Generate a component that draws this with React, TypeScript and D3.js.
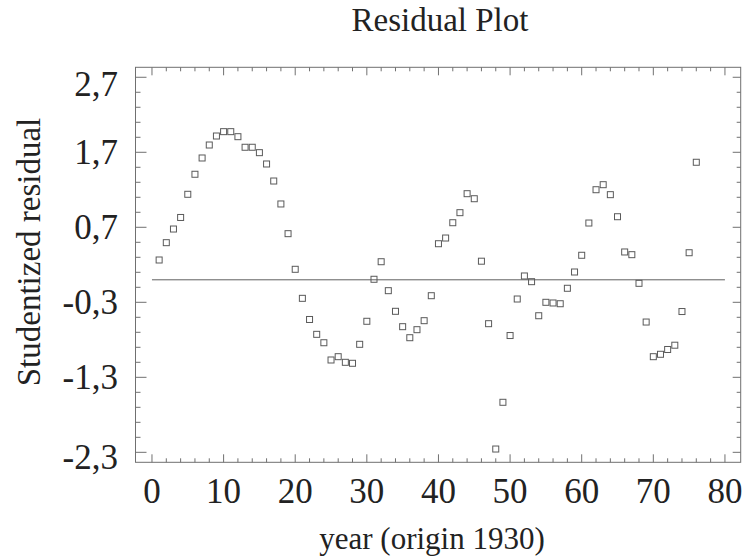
import React from "react";
import * as d3 from "d3";

const years: number[] = Array.from({ length: 76 }, (_, i) => i + 1);
const residuals: number[] = [
  0.264, 0.495, 0.677, 0.831, 1.14, 1.407, 1.624, 1.797, 1.917, 1.975,
  1.975, 1.908, 1.767, 1.767, 1.695, 1.544, 1.317, 1.011, 0.615, 0.14,
  -0.247, -0.529, -0.727, -0.839, -1.069, -1.025, -1.1, -1.113, -0.86, -0.553,
  0.007, 0.241, -0.145, -0.42, -0.625, -0.772, -0.665, -0.545, -0.212, 0.481,
  0.557, 0.761, 0.895, 1.148, 1.081, 0.248, -0.585, -2.256, -1.633, -0.743,
  -0.256, 0.051, -0.025, -0.479, -0.3, -0.309, -0.319, -0.113, 0.104, 0.327,
  0.757, 1.201, 1.268, 1.135, 0.841, 0.371, 0.335, -0.047, -0.563, -1.025,
  -0.993, -0.929, -0.872, -0.423, 0.361, 1.567,
];
const xTicks: number[] = [0, 10, 20, 30, 40, 50, 60, 70, 80];
const yTicks: number[] = [-2.3, -1.3, -0.3, 0.7, 1.7, 2.7];
const yTickLabels: string[] = ["-2,3", "-1,3", "-0,3", "0,7", "1,7", "2,7"];

const W = 746;
const H = 559;
const FONT = "'Liberation Serif', 'Times New Roman', serif";

export default function App() {
  const x = d3.scaleLinear().domain([-2.3, 82.2]).range([135.5, 740.7]);
  const y = d3.scaleLinear().domain([-2.433, 2.833]).range([462.3, 67.3]);
  const [x0, x1] = x.range();
  const [yb, yt] = y.range();

  const xMinor = d3.range(0, 81, 2).filter((v) => v % 10 !== 0);
  const yMinor = d3
    .range(-2.3, 2.75, 0.2)
    .map((v) => Math.round(v * 10) / 10)
    .filter((v) => !yTicks.some((t) => Math.abs(t - v) < 1e-6));

  const frame = "#707070";
  const sq = 6;
  const tickFs = 35;
  // labels at the two ends sit slightly lower than their ticks in the reference
  const labelShift = (i: number) => (i === yTicks.length - 1 ? 7 : i === 0 ? 5 : 0);

  return (
    <svg
      width={W}
      height={H}
      style={{ position: "absolute", left: 0, top: 0, background: "#fff" }}
    >
      <text
        x={440}
        y={31}
        textAnchor="middle"
        fontFamily={FONT}
        fontSize={33}
        fill="#222"
      >
        Residual Plot
      </text>

      {/* frame */}
      <rect
        x={x0}
        y={yt}
        width={x1 - x0}
        height={yb - yt}
        fill="none"
        stroke={frame}
        strokeWidth={1}
      />

      {/* x ticks */}
      {xTicks.map((t) => (
        <g key={"xt" + t}>
          <line x1={x(t)} x2={x(t)} y1={yb} y2={yb - 8} stroke={frame} />
          <line x1={x(t)} x2={x(t)} y1={yt} y2={yt + 8} stroke={frame} />
          <text
            x={x(t)}
            y={503}
            textAnchor="middle"
            fontFamily={FONT}
            fontSize={tickFs}
            fill="#222"
          >
            {t}
          </text>
        </g>
      ))}
      {xMinor.map((t) => (
        <g key={"xm" + t}>
          <line x1={x(t)} x2={x(t)} y1={yb} y2={yb - 4} stroke={frame} />
          <line x1={x(t)} x2={x(t)} y1={yt} y2={yt + 4} stroke={frame} />
        </g>
      ))}

      {/* y ticks */}
      {yTicks.map((t, i) => (
        <g key={"yt" + t}>
          <line x1={x0} x2={x0 + 11} y1={y(t)} y2={y(t)} stroke={frame} />
          <line x1={x1} x2={x1 - 8} y1={y(t)} y2={y(t)} stroke={frame} />
          <text
            x={118}
            y={y(t) + 12 + labelShift(i)}
            textAnchor="end"
            fontFamily={FONT}
            fontSize={tickFs}
            fill="#222"
          >
            {yTickLabels[i]}
          </text>
        </g>
      ))}
      {yMinor.map((t) => (
        <g key={"ym" + t}>
          <line x1={x0} x2={x0 + 5} y1={y(t)} y2={y(t)} stroke={frame} />
          <line x1={x1} x2={x1 - 4} y1={y(t)} y2={y(t)} stroke={frame} />
        </g>
      ))}

      {/* zero line */}
      <line x1={x(0)} x2={x(80)} y1={y(0)} y2={y(0)} stroke="#606060" strokeWidth={1} />

      {/* points */}
      {years.map((yr, i) => (
        <rect
          key={"p" + yr}
          x={x(yr) - sq / 2}
          y={y(residuals[i]) - sq / 2}
          width={sq}
          height={sq}
          fill="none"
          stroke="#5a5a5a"
          strokeWidth={1}
        />
      ))}

      <text
        x={432}
        y={549}
        textAnchor="middle"
        fontFamily={FONT}
        fontSize={31}
        fill="#222"
      >
        year (origin 1930)
      </text>
      <text
        transform={`translate(40, 252) rotate(-90)`}
        textAnchor="middle"
        fontFamily={FONT}
        fontSize={33}
        fill="#222"
      >
        Studentized residual
      </text>
    </svg>
  );
}
